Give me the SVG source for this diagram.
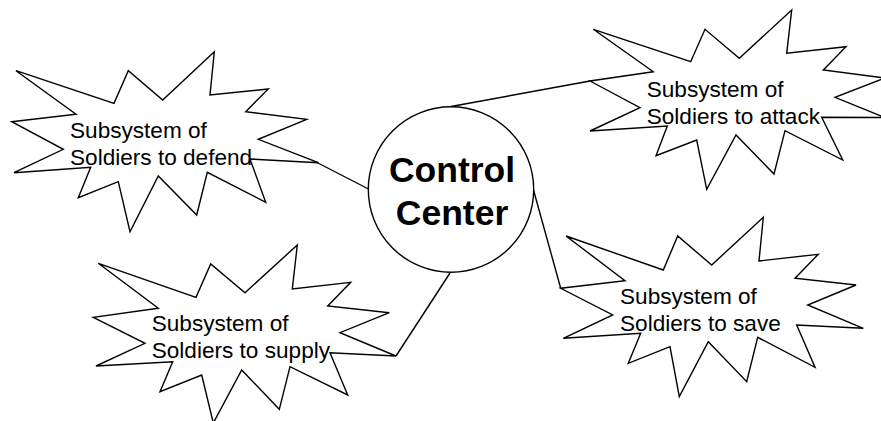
<svg xmlns="http://www.w3.org/2000/svg" width="881" height="421" viewBox="0 0 881 421">
  <style>
    .burst { fill: #ffffff; stroke: #000000; stroke-width: 1.4; stroke-linejoin: miter; }
    .hub { fill: #ffffff; stroke: #000000; stroke-width: 1.4; }
    .link { stroke: #000000; stroke-width: 1.4; fill: none; }
    .label { font-family: "Liberation Sans", Arial, sans-serif; font-size: 22.6px; fill: #000000; }
    .hub-label { font-family: "Liberation Sans", Arial, sans-serif; font-size: 35.5px; font-weight: bold; fill: #000000; text-anchor: middle; }
  </style>
  <rect width="881" height="421" fill="#ffffff"/>

  <!-- connectors from the control center to each subsystem -->
  <g id="connectors">
    <line class="link" x1="317" y1="162.5" x2="368.5" y2="189"/>
    <line class="link" x1="451" y1="106.5" x2="590" y2="81"/>
    <line class="link" x1="396" y1="356" x2="450" y2="273"/>
    <line class="link" x1="533.5" y1="190" x2="560.7" y2="288.3"/>
  </g>

  <g id="defend">
    <polygon class="burst" points="16,70.7 114,103.3 128.3,70.7 162.7,100 214.3,51.7 210,95 268.3,89 245.7,111.7 306.7,119.3 258.3,139.3 318.3,162.7 250,159 265.7,202.3 207.3,172.3 196.7,215 158.3,176 130,231.7 118.3,181.7 78.3,197.7 90.7,167.3 14,172.7 63.3,149.3 11.7,121.7 76,114.3"/>
    <text class="label" x="70" y="138.3">Subsystem of</text>
    <text class="label" x="70" y="165.3">Soldiers to defend</text>
  </g>

  <g id="attack">
    <polygon class="burst" points="593.3,29.3 690.7,61.7 705,29.3 739.3,58.3 791.7,10 786.7,53.3 846,46.7 823.3,70 885,78 835,97.3 885,117.5 821.7,117.3 842.7,160 785,130.7 774,174 736,135 706.7,189.3 696.7,140 656,155.7 667.3,126 590,131 640,107.7 590,81 653.3,71.7"/>
    <text class="label" x="646.7" y="96.7">Subsystem of</text>
    <text class="label" x="646.7" y="123.5">Soldiers to attack</text>
  </g>

  <g id="supply">
    <polygon class="burst" points="98.3,263.3 196,297.3 210.7,264 245,292.7 297.3,245 292.3,289 350.7,282.3 327.7,306 389.3,312.7 340,332.7 396,356 330,352.7 347.7,395 290,366.7 279.3,409.3 241.7,370 213.3,423 201.7,375 160,391.7 172.7,361.7 96,366 145,343.3 93.3,317.3 158.3,308.3"/>
    <text class="label" x="151.7" y="331">Subsystem of</text>
    <text class="label" x="151.7" y="357.8">Soldiers to supply</text>
  </g>

  <g id="save">
    <polygon class="burst" points="566,236 663.3,270 677.7,236 711.7,265 763.3,217.3 759,261 818.3,254.3 795,278.3 856,285 807.7,305 863.3,328.3 796.7,325 815,367.3 757.7,337.3 746.7,381.7 708.3,341.7 679.3,396.7 670,346.7 628.3,363.3 640.7,333.3 563.3,338.3 612.7,315 560.7,288.3 625,280.7"/>
    <text class="label" x="620" y="303.5">Subsystem of</text>
    <text class="label" x="620" y="331">Soldiers to save</text>
  </g>

  <g id="control-center">
    <circle class="hub" cx="451" cy="189.5" r="82.7"/>
    <text class="hub-label" x="452" y="181.7">Control</text>
    <text class="hub-label" x="452" y="225">Center</text>
  </g>
</svg>
